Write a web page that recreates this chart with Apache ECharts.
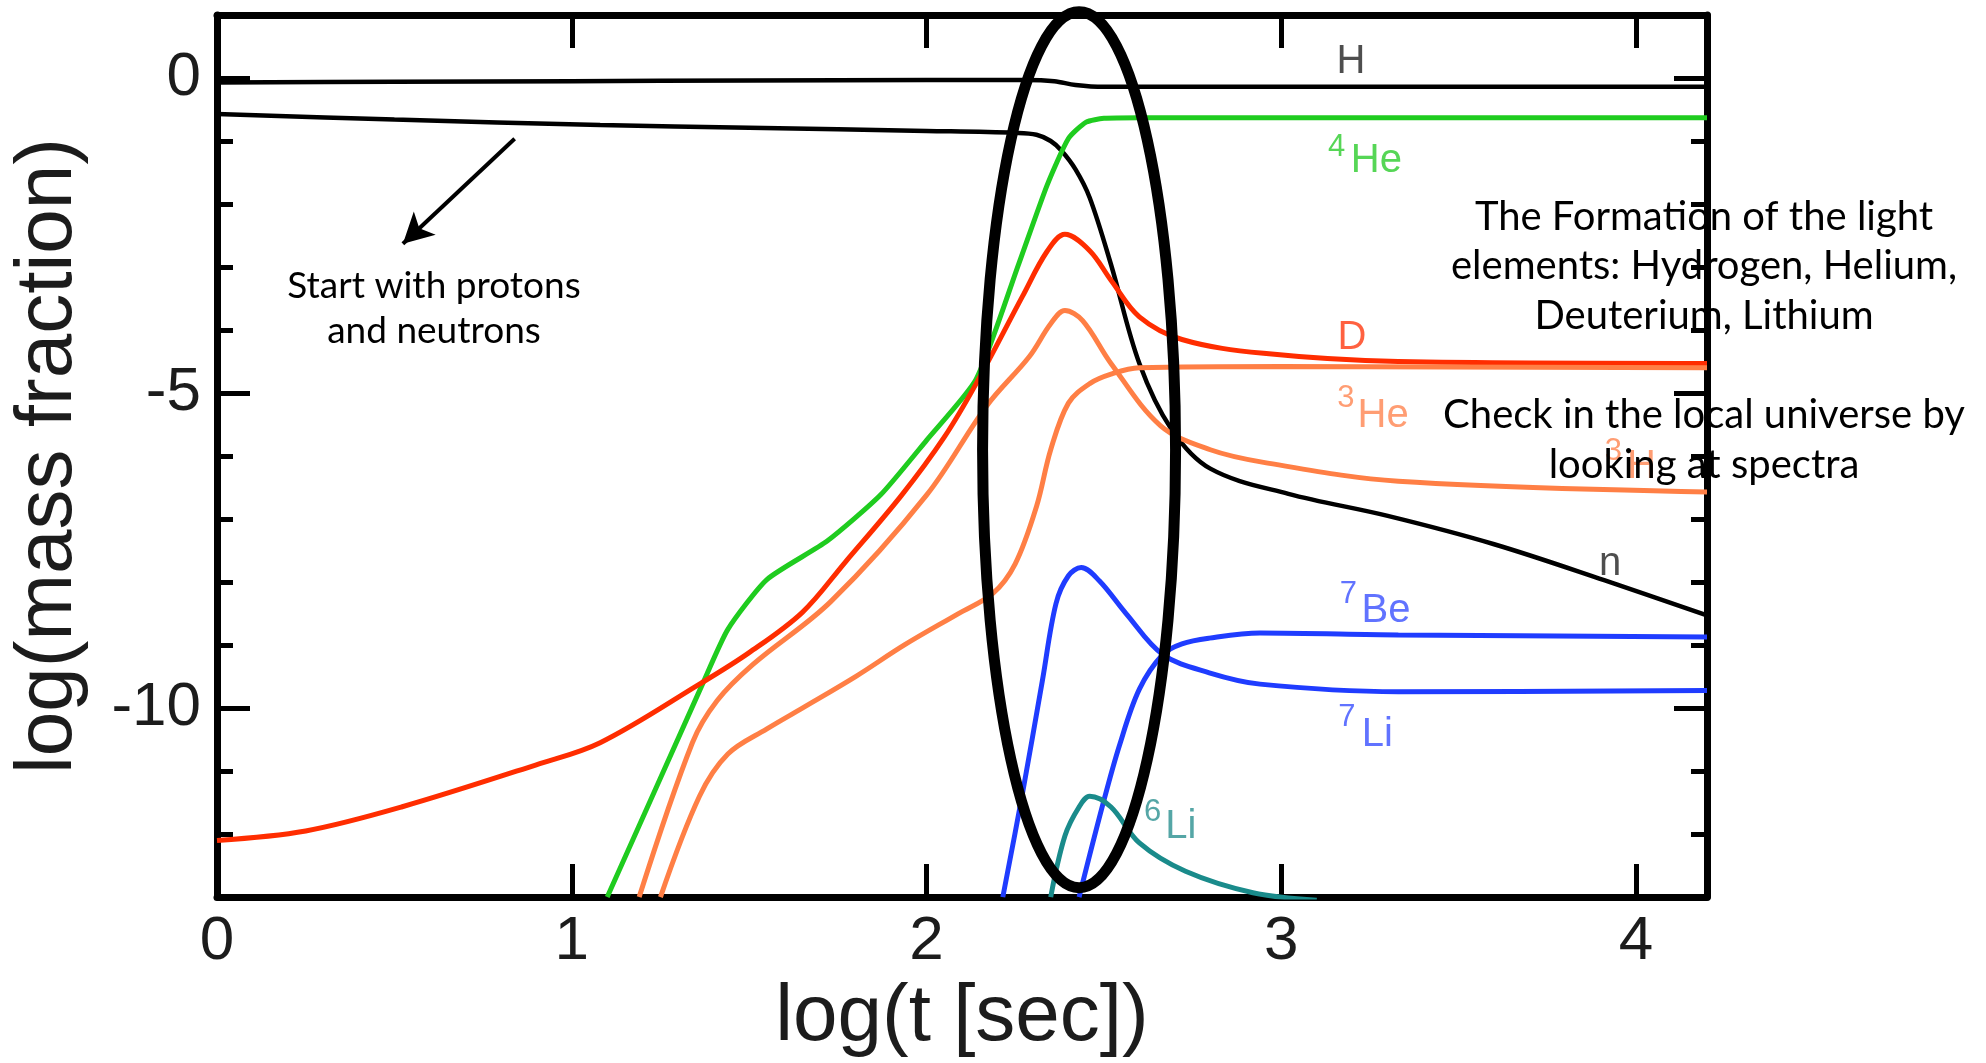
<!DOCTYPE html>
<html>
<head>
<meta charset="utf-8">
<script src="https://cdn.jsdelivr.net/npm/echarts@6/dist/echarts.min.js"></script>
<style>
html,body{margin:0;padding:0;background:#fff;}
#chart{width:1986px;height:1063px;}
</style>
</head>
<body>
<div id="chart"></div>
<script>
// ---------- data (log t [s], log mass fraction) ----------
const xTickValues = [0, 1, 2, 3, 4];
const yTickValues = [0, -5, -10];

const hydrogen = [[0,-0.07],[0.5,-0.06],[1.0,-0.05],[1.5,-0.04],[2.0,-0.03],[2.28,-0.03],[2.36,-0.05],[2.42,-0.11],[2.5,-0.14],[3.0,-0.14],[4.2,-0.14]];
const neutron = [[0,-0.57],[0.5,-0.66],[1.08,-0.745],[1.5,-0.79],[2.0,-0.84],[2.25,-0.87],[2.31,-0.9],[2.35,-1.0],[2.38,-1.15],[2.42,-1.45],[2.46,-1.9],[2.52,-2.96],[2.6,-4.53],[2.69,-5.57],[2.8,-6.2],[3.02,-6.6],[3.3,-6.95],[3.6,-7.4],[3.91,-7.97],[4.2,-8.53]];
const helium4 = [[1.10,-13],[1.37,-9.6],[1.44,-8.75],[1.55,-7.96],[1.72,-7.35],[1.87,-6.62],[2.0,-5.75],[2.14,-4.78],[2.26,-2.95],[2.34,-1.7],[2.4,-0.96],[2.45,-0.7],[2.5,-0.64],[2.6,-0.63],[4.2,-0.63]];
const deuterium = [[0,-12.1],[0.25,-11.95],[0.52,-11.57],[0.9,-10.9],[1.08,-10.55],[1.36,-9.62],[1.5,-9.12],[1.65,-8.48],[1.77,-7.69],[1.93,-6.62],[2.05,-5.7],[2.14,-4.85],[2.27,-3.47],[2.34,-2.75],[2.39,-2.48],[2.46,-2.74],[2.52,-3.21],[2.6,-3.79],[2.72,-4.15],[2.95,-4.37],[3.33,-4.5],[4.2,-4.53]];
const helium3 = [[1.25,-13],[1.36,-11.4],[1.44,-10.73],[1.55,-10.33],[1.65,-10.0],[1.8,-9.5],[1.94,-8.99],[2.09,-8.5],[2.187,-8.18],[2.25,-7.71],[2.31,-6.8],[2.35,-5.9],[2.4,-5.16],[2.46,-4.85],[2.52,-4.7],[2.6,-4.6],[3.0,-4.58],[4.2,-4.6]];
const tritium = [[1.19,-13],[1.34,-10.55],[1.41,-9.88],[1.51,-9.31],[1.73,-8.31],[2.0,-6.62],[2.17,-5.2],[2.29,-4.42],[2.35,-3.9],[2.39,-3.69],[2.44,-3.85],[2.52,-4.53],[2.66,-5.52],[2.8,-5.9],[2.95,-6.1],[3.33,-6.4],[4.2,-6.57]];
const beryllium7 = [[2.43,-13],[2.497,-11.53],[2.544,-10.59],[2.6,-9.7],[2.666,-9.15],[2.72,-8.98],[2.797,-8.89],[2.94,-8.81],[3.33,-8.84],[4.2,-8.87]];
const lithium7 = [[2.215,-13],[2.27,-11.37],[2.327,-9.55],[2.365,-8.34],[2.40,-7.9],[2.436,-7.77],[2.487,-7.98],[2.5625,-8.5],[2.666,-9.15],[2.797,-9.44],[2.94,-9.62],[3.33,-9.74],[4.2,-9.72]];
const lithium6 = [[2.35,-13],[2.39,-12.03],[2.43,-11.57],[2.46,-11.4],[2.52,-11.57],[2.6,-12.14],[2.73,-12.59],[2.92,-12.93],[3.1,-13.05]];

// curve labels: main text and superscript (mass number), anchored in data units
const curveLabels = [
  {key:'H',   text:'H',  x:3.196, y:0.254},
  {key:'4He', text:'He', x:3.268, y:-1.32,  sup:'4', sx:3.156, sy:-1.104},
  {key:'D',   text:'D',  x:3.199, y:-4.12},
  {key:'3He', text:'He', x:3.287, y:-5.36,  sup:'3', sx:3.182, sy:-5.08},
  {key:'3H',  text:'H',  x:4.015, y:-6.18,  sup:'3', sx:3.936, sy:-5.93},
  {key:'n',   text:'n',  x:3.927, y:-7.72},
  {key:'7Be', text:'Be', x:3.295, y:-8.46,  sup:'7', sx:3.189, sy:-8.19},
  {key:'7Li', text:'Li', x:3.271, y:-10.42, sup:'7', sx:3.185, sy:-10.15},
  {key:'6Li', text:'Li', x:2.717, y:-11.89, sup:'6', sx:2.637, sy:-11.65}
];

// annotation: highlighted freeze-out region (centre x, centre y, half-width, half-height)
const highlightEllipse = [2.43, -5.9, 0.272, 6.95];
// arrow pointing to the initial p/n abundances
const arrowFrom = [0.839, -0.965];
const arrowTo = [0.524, -2.63];

// ---------- styles ----------
const curveSeries = [
  {key:'H',   name:'H',   data:hydrogen},
  {key:'n',   name:'n',   data:neutron},
  {key:'4He', name:'4He', data:helium4},
  {key:'D',   name:'D',   data:deuterium},
  {key:'3He', name:'3He', data:helium3},
  {key:'3H',  name:'3H',  data:tritium},
  {key:'7Be', name:'7Be', data:beryllium7},
  {key:'7Li', name:'7Li', data:lithium7},
  {key:'6Li', name:'6Li', data:lithium6}
];
const colors = {H:'#000000', n:'#000000', '4He':'#1fcc1f', D:'#ff2d00', '3He':'#ff7f45', '3H':'#ff7f45', '7Be':'#1f3cff', '7Li':'#1f3cff', '6Li':'#1a8b8b'};
const labelColors = {H:'#222222', n:'#222222', '4He':'#2ccc2c', D:'#ff3a10', '3He':'#ff8450', '3H':'#ff8450', '7Be':'#3a50ff', '7Li':'#3a50ff', '6Li':'#2a9090'};
const lineWidths = {H:4.5, n:4.5};
const smoothness = {'4He':0.2};
const AX = 'Liberation Sans, Arial, Helvetica, sans-serif';
const NOTE = 'Lato, "Open Sans", sans-serif';

const chart = echarts.init(document.getElementById('chart'), null, {renderer:'canvas'});

const frameLine = {show:true, onZero:false, lineStyle:{color:'#000', width:7}};
const hiddenLine = {show:false, onZero:false};
const majorTick = {show:true, inside:true, length:33, lineStyle:{color:'#000', width:5}};
const minorTick = {show:true, inside:true, length:16, lineStyle:{color:'#000', width:5}};

const series = curveSeries.map(s => ({
  type:'line', name:s.name, data:s.data, xAxisIndex:0, yAxisIndex:0,
  showSymbol:false, symbol:'none', smooth:(smoothness[s.key] || 0.35), clip:true,
  lineStyle:{color:colors[s.key], width:lineWidths[s.key] || 5},
  itemStyle:{color:colors[s.key]}, z:3, silent:true
}));

// arrow annotation attached to the neutron curve
series[1].markLine = {
  silent:true, symbol:['none','arrow'], symbolSize:[24,30], animation:false,
  label:{show:false},
  lineStyle:{color:'#000', width:4, type:'solid'},
  data:[[{coord:arrowFrom},{coord:arrowTo}]]
};

// curve labels
const labelData = [];
curveLabels.forEach(l => {
  labelData.push({value:[l.x, l.y], label:{formatter:l.text, color:labelColors[l.key], fontSize:40}});
  if (l.sup) labelData.push({value:[l.sx, l.sy], label:{formatter:l.sup, color:labelColors[l.key], fontSize:31}});
});
series.push({
  type:'scatter', name:'labels', data:labelData, symbolSize:0, silent:true, z:5,
  xAxisIndex:0, yAxisIndex:0,
  label:{show:true, position:'inside', fontFamily:AX, align:'center', verticalAlign:'middle'}
});

// highlight ellipse
series.push({
  type:'custom', name:'highlight', coordinateSystem:'cartesian2d', xAxisIndex:0, yAxisIndex:0,
  clip:false, silent:true, z:10, data:[highlightEllipse], encode:{x:0, y:1},
  renderItem:(params, api) => {
    const c = api.coord([api.value(0), api.value(1)]);
    const e = api.coord([api.value(0) + api.value(2), api.value(1) + api.value(3)]);
    return {type:'ellipse', shape:{cx:c[0], cy:c[1], rx:Math.abs(e[0]-c[0]), ry:Math.abs(e[1]-c[1])},
      style:{fill:'none', stroke:'#000', lineWidth:11}};
  }
});

const option = {
  animation:false,
  backgroundColor:'#ffffff',
  grid:{left:217, right:279, top:15, bottom:157.5},
  xAxis:[
    {type:'value', position:'bottom', min:0, max:4.2, interval:1,
     axisLine:frameLine, axisTick:majorTick, splitLine:{show:false},
     axisLabel:{show:true, fontSize:62, fontFamily:AX, color:'#1c1c1c', margin:14,
       formatter:v => (xTickValues.indexOf(v) >= 0 ? String(v) : '')},
     name:'log(t [sec])', nameLocation:'middle', nameGap:67,
     nameTextStyle:{fontSize:80, fontFamily:AX, color:'#1c1c1c'}},
    {type:'value', position:'top', min:0, max:4.2, interval:1,
     axisLine:frameLine, axisTick:majorTick, splitLine:{show:false}, axisLabel:{show:false}}
  ],
  yAxis:[
    {type:'value', position:'left', min:-13, max:1, interval:1,
     axisLine:frameLine, axisTick:minorTick, splitLine:{show:false}, axisLabel:{show:false},
     name:'log(mass fraction)', nameLocation:'middle', nameGap:128,
     nameTextStyle:{fontSize:80, fontFamily:AX, color:'#1c1c1c'}},
    {type:'value', position:'left', min:-13, max:1, splitNumber:3,
     axisLine:hiddenLine, axisTick:majorTick, splitLine:{show:false},
     axisLabel:{show:true, fontSize:62, fontFamily:AX, color:'#1c1c1c', margin:16,
       formatter:v => (yTickValues.indexOf(v) >= 0 ? String(v) : '')}},
    {type:'value', position:'right', min:-13, max:1, interval:1,
     axisLine:frameLine, axisTick:minorTick, splitLine:{show:false}, axisLabel:{show:false}},
    {type:'value', position:'right', min:-13, max:1, splitNumber:3,
     axisLine:hiddenLine, axisTick:majorTick, splitLine:{show:false}, axisLabel:{show:false}}
  ],
  graphic:[
    {type:'text', z:100, silent:true, x:434, y:309,
     style:{text:'Start with protons\nand neutrons', font:'37px ' + NOTE, fill:'#000',
       align:'center', verticalAlign:'middle', textAlign:'center', textVerticalAlign:'middle', lineHeight:45}},
    {type:'text', z:100, silent:true, x:1704, y:266.5,
     style:{text:'The Formation of the light\nelements: Hydrogen, Helium,\nDeuterium, Lithium', font:'40px ' + NOTE, fill:'#000',
       align:'center', verticalAlign:'middle', textAlign:'center', textVerticalAlign:'middle', lineHeight:49.5}},
    {type:'text', z:100, silent:true, x:1704, y:440,
     style:{text:'Check in the local universe by\nlooking at spectra', font:'40px ' + NOTE, fill:'#000',
       align:'center', verticalAlign:'middle', textAlign:'center', textVerticalAlign:'middle', lineHeight:49.5}}
  ],
  series:series
};
chart.setOption(option);
</script>
</body>
</html>
